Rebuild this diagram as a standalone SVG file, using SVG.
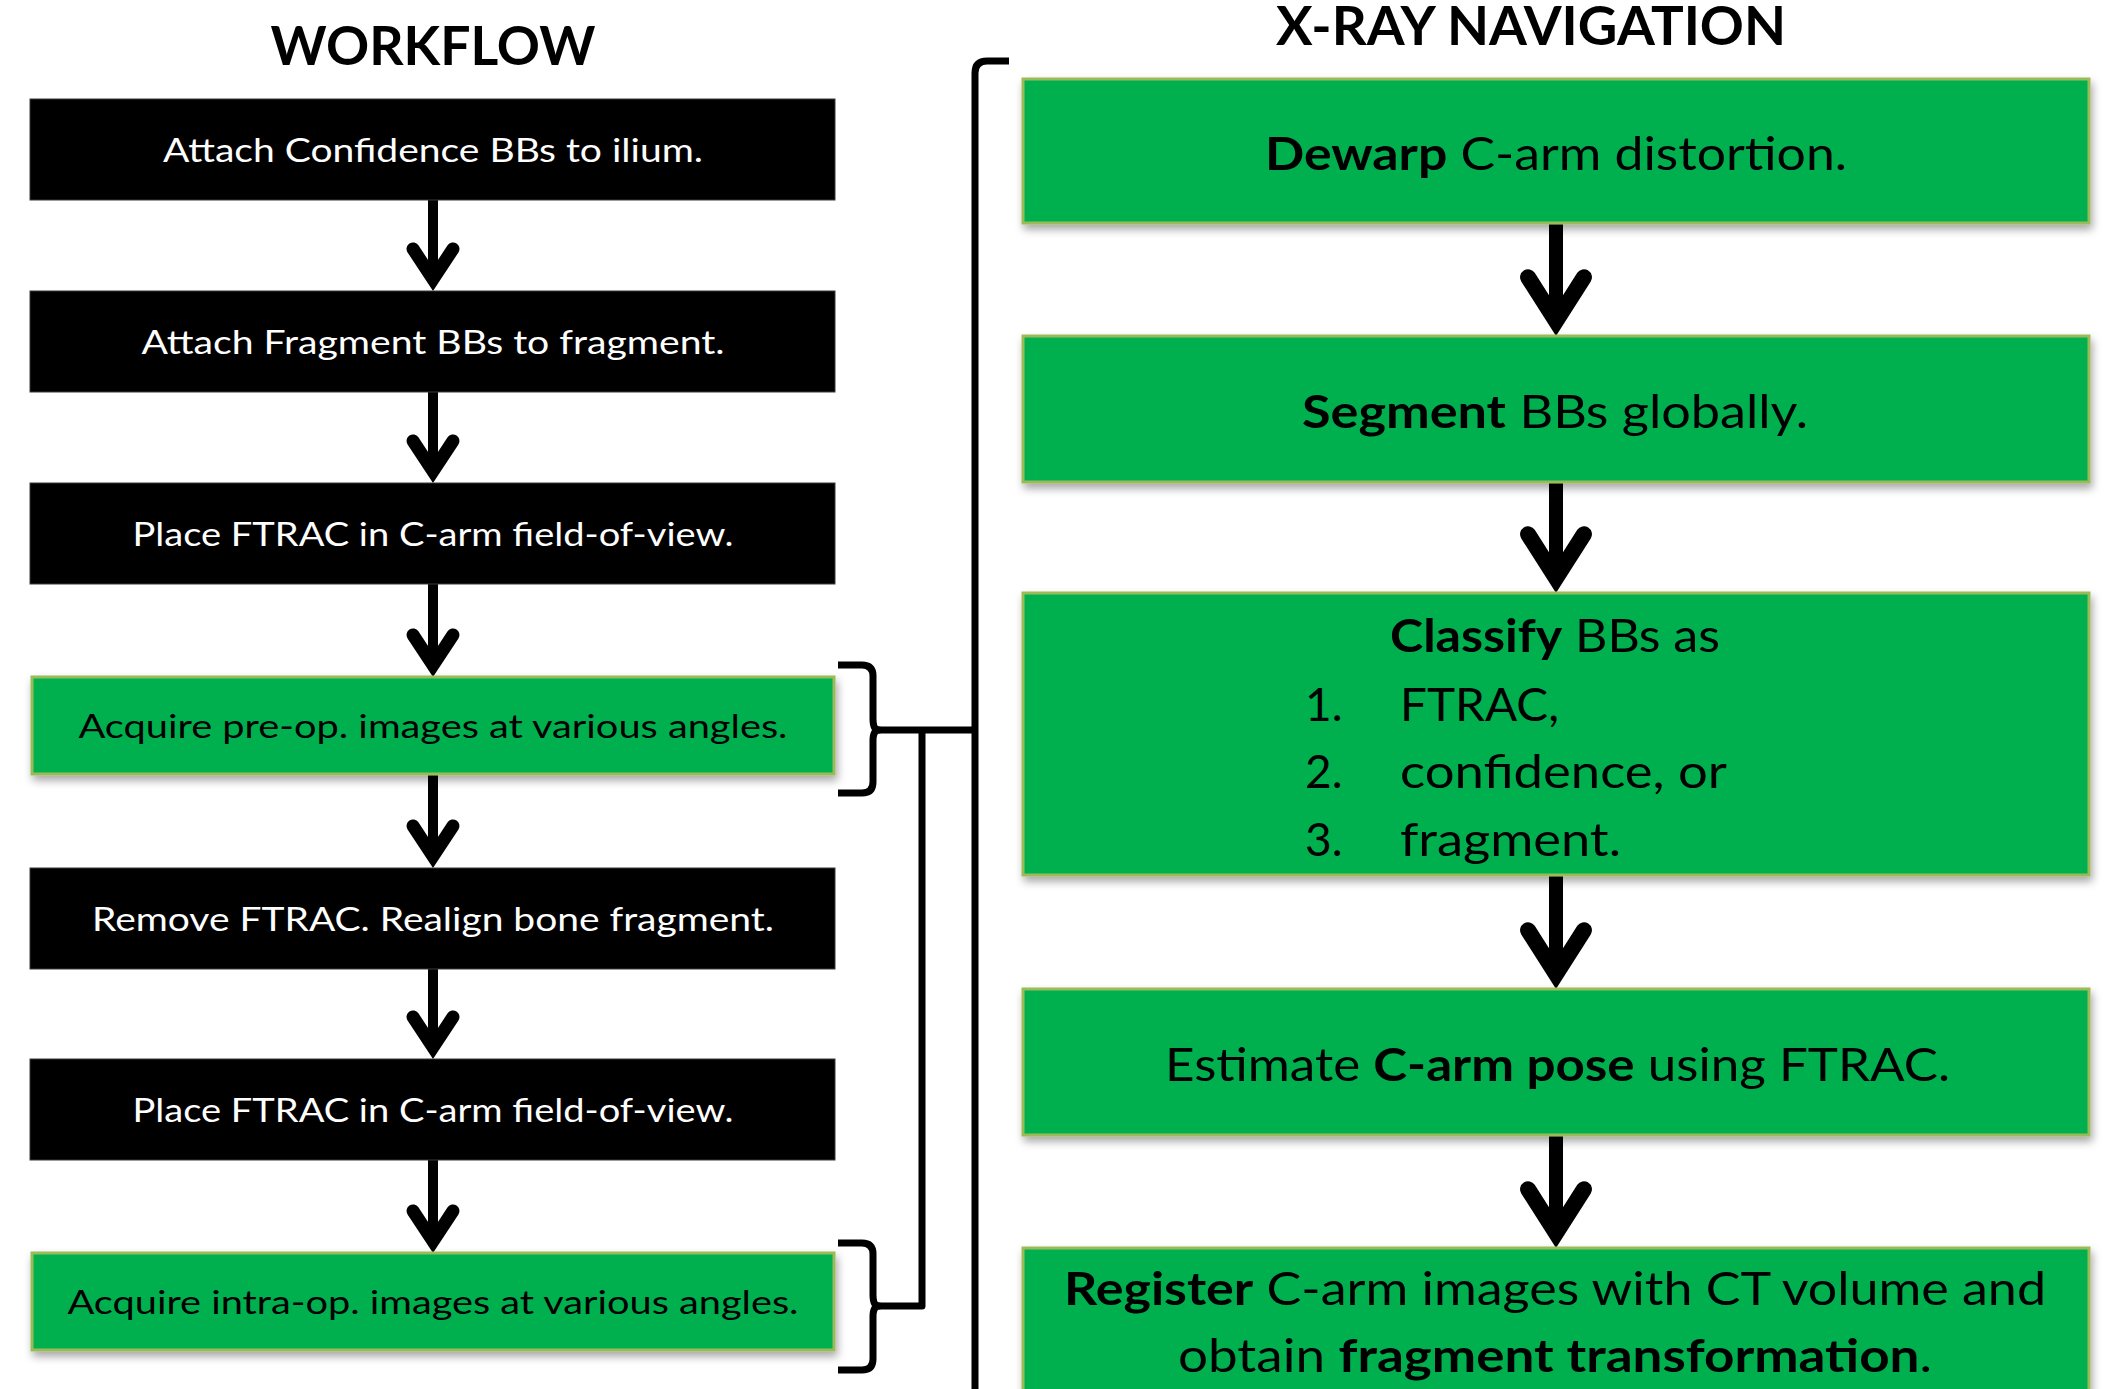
<svg xmlns="http://www.w3.org/2000/svg" xmlns:xlink="http://www.w3.org/1999/xlink" width="2116" height="1389" viewBox="0 0 2116 1389">
<defs>
<style>
.title{font-family:Lato,"Open Sans","Liberation Sans",sans-serif;font-weight:700;font-size:54px;fill:#000}
.lt{font-family:Lato,"Open Sans","Liberation Sans",sans-serif;font-size:32px}
.w{fill:#fff}
.k{fill:#000}
.rt{font-family:Lato,"Open Sans","Liberation Sans",sans-serif;font-size:46px;fill:#000}
.b{font-weight:700}
.blk{fill:#000;stroke:#3a3a3a;stroke-width:1}
.grn{fill:#00B050;stroke:#9BBB59;stroke-width:3;filter:url(#sh)}
.line{fill:none;stroke:#000;stroke-width:7;stroke-linecap:butt;stroke-linejoin:round}
.shaftL{stroke:#000;stroke-width:10}
.shaftR{stroke:#000;stroke-width:14}
</style>
<filter id="sh" x="-5%" y="-10%" width="115%" height="130%">
<feDropShadow dx="2" dy="5" stdDeviation="4" flood-color="#000" flood-opacity="0.35"/>
</filter>
<path id="headL" d="M0,0 L-25.43,-38.57 A6.5,6.5 0 0 1 -14.58,-45.73 L0,-23.6 L14.58,-45.73 A6.5,6.5 0 0 1 25.43,-38.57 Z" fill="#000"/>
<path id="headR" d="M0,0 L-34.76,-54.57 A8,8 0 0 1 -21.27,-63.17 L0,-29.8 L21.27,-63.17 A8,8 0 0 1 34.76,-54.57 Z" fill="#000"/>
</defs>
<rect width="2116" height="1389" fill="#fff"/>

<g id="titles">
<text class="title" x="433" y="65" text-anchor="middle" textLength="325" lengthAdjust="spacingAndGlyphs">WORKFLOW</text>
<text class="title" x="1531" y="45" text-anchor="middle" textLength="510" lengthAdjust="spacingAndGlyphs">X-RAY NAVIGATION</text>
</g>

<g id="connectors">
<line class="shaftL" x1="433" y1="200" x2="433" y2="270"/>
<use xlink:href="#headL" x="433" y="291"/>
<line class="shaftL" x1="433" y1="392" x2="433" y2="462"/>
<use xlink:href="#headL" x="433" y="483"/>
<line class="shaftL" x1="433" y1="584" x2="433" y2="656"/>
<use xlink:href="#headL" x="433" y="677"/>
<line class="shaftL" x1="433" y1="774" x2="433" y2="847"/>
<use xlink:href="#headL" x="433" y="868"/>
<line class="shaftL" x1="433" y1="969" x2="433" y2="1038"/>
<use xlink:href="#headL" x="433" y="1059"/>
<line class="shaftL" x1="433" y1="1160" x2="433" y2="1232"/>
<use xlink:href="#headL" x="433" y="1253"/>

<line class="shaftR" x1="1556" y1="223" x2="1556" y2="310"/>
<use xlink:href="#headR" x="1556" y="336"/>
<line class="shaftR" x1="1556" y1="482" x2="1556" y2="567"/>
<use xlink:href="#headR" x="1556" y="593"/>
<line class="shaftR" x1="1556" y1="875" x2="1556" y2="963"/>
<use xlink:href="#headR" x="1556" y="989"/>
<line class="shaftR" x1="1556" y1="1135" x2="1556" y2="1222"/>
<use xlink:href="#headR" x="1556" y="1248"/>

<path class="line" d="M838,665 H862 Q873,665 873,676 V719 Q873,730 879,730 Q873,730 873,741 V782 Q873,793 862,793 H838"/>
<path class="line" d="M838,1243 H862 Q873,1243 873,1254 V1295 Q873,1306 879,1306 Q873,1306 873,1317 V1359 Q873,1370 862,1370 H838"/>
<path class="line" d="M1009,61 H987 Q975,61 975,73 V1400"/>
<path class="line" d="M877,730 H975"/>
<path class="line" d="M922,730 V1306 H877"/>
</g>

<g id="n1"><rect class="blk" x="30" y="99" width="805" height="101"/>
<text class="lt w" x="433" y="162" text-anchor="middle" textLength="540" lengthAdjust="spacingAndGlyphs">Attach Confidence BBs to ilium.</text></g>
<g id="n2"><rect class="blk" x="30" y="291" width="805" height="101"/>
<text class="lt w" x="433" y="354" text-anchor="middle" textLength="583" lengthAdjust="spacingAndGlyphs">Attach Fragment BBs to fragment.</text></g>
<g id="n3"><rect class="blk" x="30" y="483" width="805" height="101"/>
<text class="lt w" x="433" y="546" text-anchor="middle" textLength="601" lengthAdjust="spacingAndGlyphs">Place FTRAC in C-arm field-of-view.</text></g>
<g id="n4"><rect class="grn" x="32" y="677" width="802" height="97"/>
<text class="lt k" x="433" y="738" text-anchor="middle" textLength="709" lengthAdjust="spacingAndGlyphs">Acquire pre-op. images at various angles.</text></g>
<g id="n5"><rect class="blk" x="30" y="868" width="805" height="101"/>
<text class="lt w" x="433" y="931" text-anchor="middle" textLength="682" lengthAdjust="spacingAndGlyphs">Remove FTRAC. Realign bone fragment.</text></g>
<g id="n6"><rect class="blk" x="30" y="1059" width="805" height="101"/>
<text class="lt w" x="433" y="1122" text-anchor="middle" textLength="601" lengthAdjust="spacingAndGlyphs">Place FTRAC in C-arm field-of-view.</text></g>
<g id="n7"><rect class="grn" x="32" y="1253" width="802" height="97"/>
<text class="lt k" x="433" y="1314" text-anchor="middle" textLength="731" lengthAdjust="spacingAndGlyphs">Acquire intra-op. images at various angles.</text></g>

<g id="r1"><rect class="grn" x="1023" y="79" width="1066" height="144"/>
<text class="rt" x="1265" y="170" textLength="582" lengthAdjust="spacingAndGlyphs"><tspan class="b">Dewarp</tspan> C-arm distortion.</text></g>
<g id="r2"><rect class="grn" x="1023" y="336" width="1066" height="146"/>
<text class="rt" x="1302" y="428" textLength="506" lengthAdjust="spacingAndGlyphs"><tspan class="b">Segment</tspan> BBs globally.</text></g>
<g id="r3"><rect class="grn" x="1023" y="593" width="1066" height="282"/>
<text class="rt" x="1390" y="652" textLength="330" lengthAdjust="spacingAndGlyphs"><tspan class="b">Classify</tspan> BBs as</text>
<text class="rt" x="1305" y="721">1.</text><text class="rt" x="1400" y="721" textLength="159" lengthAdjust="spacingAndGlyphs">FTRAC,</text>
<text class="rt" x="1305" y="788">2.</text><text class="rt" x="1400" y="788" textLength="327" lengthAdjust="spacingAndGlyphs">confidence, or</text>
<text class="rt" x="1305" y="856">3.</text><text class="rt" x="1400" y="856" textLength="221" lengthAdjust="spacingAndGlyphs">fragment.</text></g>
<g id="r4"><rect class="grn" x="1023" y="989" width="1066" height="146"/>
<text class="rt" x="1165" y="1081" textLength="785" lengthAdjust="spacingAndGlyphs">Estimate <tspan class="b">C-arm pose</tspan> using FTRAC.</text></g>
<g id="r5"><rect class="grn" x="1023" y="1248" width="1066" height="170"/>
<text class="rt" x="1064" y="1305" textLength="982" lengthAdjust="spacingAndGlyphs"><tspan class="b">Register</tspan> C-arm images with CT volume and</text>
<text class="rt" x="1178" y="1372" textLength="754" lengthAdjust="spacingAndGlyphs">obtain <tspan class="b">fragment transformation</tspan>.</text></g>
</svg>
